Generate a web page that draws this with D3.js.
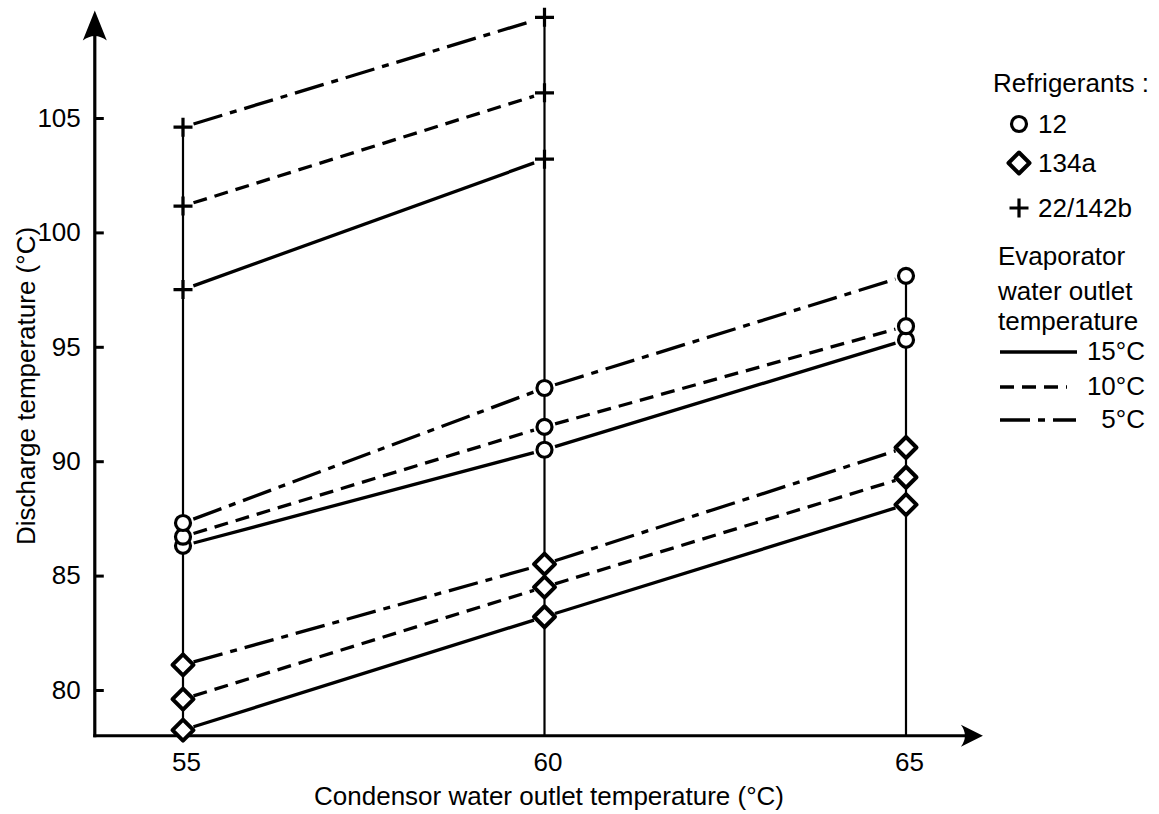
<!DOCTYPE html>
<html>
<head>
<meta charset="utf-8">
<script src="https://cdn.jsdelivr.net/npm/d3@7"></script>
<style>
  html, body { margin: 0; padding: 0; background: #fff; }
  svg { display: block; }
  text { font-family: "Liberation Sans", Arial, Helvetica, sans-serif; fill: #000; }
</style>
</head>
<body>
<svg id="chart" width="1159" height="814"></svg>
<script>
// ---- data ----
const condTemps = [55, 60, 65];          // condensor water outlet temperature (°C)
const r22Temps  = [55, 60];              // 22/142b only measured at 55 and 60
const yTicks = [80, 85, 90, 95, 100, 105];
const xTicks = [55, 60, 65];

// Refrigerant 12 (circles)
const r12_15 = [86.3, 90.5, 95.3];
const r12_10 = [86.7, 91.5, 95.9];
const r12_5  = [87.3, 93.2, 98.1];
// Refrigerant 134a (diamonds)
const r134a_15 = [78.25, 83.2, 88.1];
const r134a_10 = [79.6, 84.5, 89.3];
const r134a_5  = [81.1, 85.5, 90.6];
// Refrigerant 22/142b (plus)
const r22_15 = [97.5, 103.2];
const r22_10 = [101.15, 106.1];
const r22_5  = [104.6, 109.4];

const refrigerantNames = ["12", "134a", "22/142b"];
const evapLabels = ["15°C", "10°C", "5°C"];

// ---- scales ----
const svg = d3.select("#chart");
const x = d3.scaleLinear().domain([55, 65]).range([183, 906]);
const y = d3.scaleLinear().domain([80, 105]).range([690, 118]);

const xMin = 53.78, xMax = 66.05, yMin = 78.0, yMax = 109.65;
const FS = 26;

const dashFor = { "15°C": null, "10°C": "14,8", "5°C": "30,8,7,8" };

const series = [
  { marker: "circle",  evap: "15°C", xs: condTemps, ys: r12_15 },
  { marker: "circle",  evap: "10°C", xs: condTemps, ys: r12_10 },
  { marker: "circle",  evap: "5°C",  xs: condTemps, ys: r12_5 },
  { marker: "diamond", evap: "15°C", xs: condTemps, ys: r134a_15 },
  { marker: "diamond", evap: "10°C", xs: condTemps, ys: r134a_10 },
  { marker: "diamond", evap: "5°C",  xs: condTemps, ys: r134a_5 },
  { marker: "plus",    evap: "15°C", xs: r22Temps,  ys: r22_15 },
  { marker: "plus",    evap: "10°C", xs: r22Temps,  ys: r22_10 },
  { marker: "plus",    evap: "5°C",  xs: r22Temps,  ys: r22_5 },
];

// ---- vertical drop lines at each condensor temperature ----
const colTops = condTemps.map(c => {
  let m = -Infinity;
  series.forEach(s => s.xs.forEach((xv, i) => { if (xv === c) m = Math.max(m, s.ys[i]); }));
  return m;
});
svg.append("g").selectAll("line").data(condTemps).join("line")
  .attr("x1", d => x(d)).attr("x2", d => x(d))
  .attr("y1", y(yMin)).attr("y2", (d, i) => y(colTops[i]))
  .attr("stroke", "#000").attr("stroke-width", 2.2);

// ---- axes ----
svg.append("line")
  .attr("x1", x(xMin)).attr("x2", x(xMin))
  .attr("y1", y(yMin) + 1.5).attr("y2", y(yMax) + 8)
  .attr("stroke", "#000").attr("stroke-width", 3.2);
svg.append("path")
  .attr("d", `M${x(xMin)},${y(yMax) - 1} L${x(xMin) - 12},${y(yMax) + 29} Q${x(xMin)},${y(yMax) + 20} ${x(xMin) + 12},${y(yMax) + 29} Z`)
  .attr("fill", "#000");
svg.append("line")
  .attr("x1", x(xMin) - 1.5).attr("x2", x(xMax) - 8)
  .attr("y1", y(yMin)).attr("y2", y(yMin))
  .attr("stroke", "#000").attr("stroke-width", 3.2);
svg.append("path")
  .attr("d", `M${x(xMax) + 1},${y(yMin)} L${x(xMax) - 21},${y(yMin) - 11} Q${x(xMax) - 13},${y(yMin)} ${x(xMax) - 21},${y(yMin) + 11} Z`)
  .attr("fill", "#000");

const yAxis = d3.axisLeft(y).tickValues(yTicks).tickSizeInner(-9).tickSizeOuter(0).tickPadding(14);
const gy = svg.append("g").attr("transform", `translate(${x(xMin)},0)`).call(yAxis);
gy.select(".domain").remove();
gy.selectAll(".tick line").attr("stroke", "#000").attr("stroke-width", 3);
gy.selectAll(".tick text").attr("font-size", FS).attr("font-family", "Liberation Sans, Arial, sans-serif").attr("fill", "#000");

const xAxis = d3.axisBottom(x).tickValues(xTicks).tickSize(0).tickPadding(17);
const gx = svg.append("g").attr("transform", `translate(3,${y(yMin)})`).call(xAxis);
gx.select(".domain").remove();
gx.selectAll(".tick text").attr("font-size", FS).attr("font-family", "Liberation Sans, Arial, sans-serif").attr("fill", "#000");

// axis titles
svg.append("text")
  .attr("transform", `translate(35,${386}) rotate(-90)`)
  .attr("text-anchor", "middle").attr("font-size", FS)
  .text("Discharge temperature (°C)");
svg.append("text")
  .attr("x", 549).attr("y", 805)
  .attr("text-anchor", "middle").attr("font-size", FS)
  .text("Condensor water outlet temperature (°C)");

// ---- series lines (with small gaps around markers) ----
const gap = 11;
const gLines = svg.append("g");
series.forEach(s => {
  for (let i = 0; i < s.xs.length - 1; i++) {
    const x1 = x(s.xs[i]), y1 = y(s.ys[i]), x2 = x(s.xs[i + 1]), y2 = y(s.ys[i + 1]);
    const len = Math.hypot(x2 - x1, y2 - y1);
    const ux = (x2 - x1) / len, uy = (y2 - y1) / len;
    gLines.append("line")
      .attr("x1", x1 + ux * gap).attr("y1", y1 + uy * gap)
      .attr("x2", x2 - ux * gap).attr("y2", y2 - uy * gap)
      .attr("stroke", "#000").attr("stroke-width", 3.3)
      .attr("stroke-dasharray", dashFor[s.evap]);
  }
});

// ---- markers ----
function drawMarker(g, type, cx, cy) {
  if (type === "circle") {
    g.append("circle").attr("cx", cx).attr("cy", cy).attr("r", 7.5)
      .attr("fill", "#fff").attr("stroke", "#000").attr("stroke-width", 3.2);
  } else if (type === "diamond") {
    const r = 10.5;
    g.append("path").attr("d", `M${cx},${cy - r} L${cx + r},${cy} L${cx},${cy + r} L${cx - r},${cy} Z`)
      .attr("fill", "#fff").attr("stroke", "#000").attr("stroke-width", 4).attr("stroke-linejoin", "round");
  } else {
    const r = 9.5;
    g.append("path").attr("d", `M${cx - r},${cy} L${cx + r},${cy} M${cx},${cy - r} L${cx},${cy + r}`)
      .attr("stroke", "#000").attr("stroke-width", 3.2);
  }
}
const gMarks = svg.append("g");
series.forEach(s => s.xs.forEach((xv, i) => drawMarker(gMarks, s.marker, x(xv), y(s.ys[i]))));

// ---- legend ----
const lg = svg.append("g");
lg.append("text").attr("x", 993).attr("y", 92).attr("font-size", FS).text("Refrigerants :");
const legMarkers = ["circle", "diamond", "plus"];
const legY = [124, 163, 208];
refrigerantNames.forEach((n, i) => {
  drawMarker(lg, legMarkers[i], 1019, legY[i]);
  lg.append("text").attr("x", 1038).attr("y", legY[i] + 9).attr("font-size", FS).text(n);
});
["Evaporator", "water outlet", "temperature"].forEach((t, i) => {
  lg.append("text").attr("x", 998).attr("y", [265, 300, 330][i]).attr("font-size", FS).text(t);
});
const legLineY = [352, 387, 420];
evapLabels.forEach((e, i) => {
  lg.append("line").attr("x1", 1000).attr("x2", [1077, 1067, 1076][i])
    .attr("y1", legLineY[i]).attr("y2", legLineY[i])
    .attr("stroke", "#000").attr("stroke-width", 3.3)
    .attr("stroke-dasharray", dashFor[e]);
  lg.append("text").attr("x", 1145).attr("y", legLineY[i] + 8).attr("text-anchor", "end")
    .attr("font-size", FS).text(e);
});
</script>
</body>
</html>
